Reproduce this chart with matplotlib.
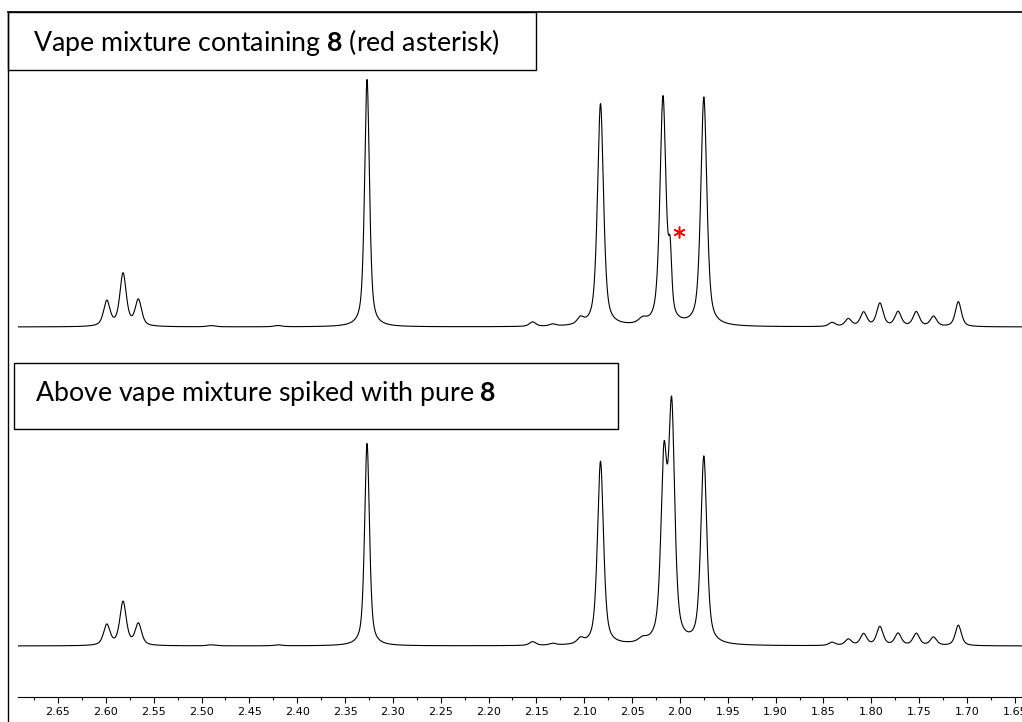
import numpy as np
import matplotlib
matplotlib.use('Agg')
import matplotlib.pyplot as plt
from matplotlib.patches import Rectangle
from matplotlib.lines import Line2D
from matplotlib.ticker import MultipleLocator, FormatStrFormatter

plt.rcParams['mathtext.fontset'] = 'custom'
plt.rcParams['mathtext.rm'] = 'Lato'
plt.rcParams['mathtext.bf'] = 'Lato:bold'

# peak lists: chemical shift (ppm), height (rel. units), FWHM (ppm)
shift_top = [2.599, 2.582, 2.566, 2.49, 2.42, 2.327, 2.154, 2.133, 2.104, 2.083,
             2.039, 2.0177, 2.0102, 1.975, 1.841, 1.824, 1.808, 1.791, 1.772,
             1.753, 1.735, 1.709]
height_top = [10.0, 21.0, 10.4, 0.5, 0.5, 99.0, 1.8, 0.8, 2.6, 89.0,
              2.0, 91.0, 22.0, 91.5, 1.6, 3.0, 5.6, 9.2, 5.8,
              5.8, 4.0, 10.0]
width_top = [0.008, 0.008, 0.008, 0.01, 0.01, 0.006, 0.008, 0.008, 0.008, 0.0075,
             0.01, 0.0075, 0.004, 0.0075, 0.008, 0.008, 0.008, 0.008, 0.008,
             0.008, 0.008, 0.0075]

shift_bot = [2.599, 2.582, 2.566, 2.49, 2.42, 2.327, 2.154, 2.133, 2.104, 2.083,
             2.039, 2.0167, 2.0086, 1.975, 1.841, 1.824, 1.808, 1.791, 1.772,
             1.753, 1.735, 1.709]
height_bot = [8.2, 17.4, 8.6, 0.4, 0.4, 81.0, 1.5, 0.7, 2.1, 73.5,
              1.6, 70.0, 90.5, 75.0, 1.3, 2.5, 4.6, 7.5, 4.8,
              4.8, 3.3, 8.2]
width_bot = [0.008, 0.008, 0.008, 0.01, 0.01, 0.006, 0.008, 0.008, 0.008, 0.0075,
             0.01, 0.0075, 0.0075, 0.0075, 0.008, 0.008, 0.008, 0.008, 0.008,
             0.008, 0.008, 0.0075]

offset_top = 148.0
offset_bot = 20.4

asterisk_ppm = 2.001
asterisk_y = 186.0

label_top = r'Vape mixture containing $\mathbf{8}$ (red asterisk)'
label_bot = r'Above vape mixture spiked with pure $\mathbf{8}$'


def pseudo_voigt(x, x0, h, fwhm, eta=0.6):
    hw = fwhm / 2.0
    lor = 1.0 / (1.0 + ((x - x0) / hw) ** 2)
    gau = np.exp(-np.log(2) * ((x - x0) / hw) ** 2)
    return h * (eta * lor + (1 - eta) * gau)


def spectrum(x, shifts, heights, widths):
    y = np.zeros_like(x)
    for s, h, w in zip(shifts, heights, widths):
        y += pseudo_voigt(x, s, h, w)
    return y


W, H = 1022, 722
fig = plt.figure(figsize=(W / 100, H / 100), dpi=100)
ax = fig.add_axes([18 / W, 25 / H, (W - 18) / W, 685 / H])

ppm = np.linspace(2.70, 1.63, 8000)
ax.plot(ppm, spectrum(ppm, shift_top, height_top, width_top) + offset_top,
        color='black', lw=0.8)
ax.plot(ppm, spectrum(ppm, shift_bot, height_bot, width_bot) + offset_bot,
        color='black', lw=0.8)

ax.plot(asterisk_ppm, asterisk_y, marker=(6, 2, 0), color='red', ms=8.5, mew=1.1)

ax.set_xlim(2.65 + 40 / 956.8, 2.65 - 964 / 956.8)
ax.set_ylim(0, 274)

for s in ['left', 'right', 'top']:
    ax.spines[s].set_visible(False)
ax.spines['bottom'].set_linewidth(0.8)
ax.set_yticks([])
ax.xaxis.set_major_locator(MultipleLocator(0.05))
ax.xaxis.set_minor_locator(MultipleLocator(0.025))
ax.xaxis.set_major_formatter(FormatStrFormatter('%.2f'))
ax.tick_params(axis='x', which='major', length=4, width=0.8, labelsize=8, pad=3)
ax.tick_params(axis='x', which='minor', length=2.5, width=0.8)

# outer frame lines
fig.add_artist(Line2D([8 / W, 8 / W], [0, 1 - 12 / H], color='black', lw=1.0))
fig.add_artist(Line2D([8 / W, 1], [1 - 12 / H, 1 - 12 / H], color='black', lw=1.2))

# label boxes
fig.add_artist(Rectangle((8 / W, 1 - 70 / H), 528 / W, 58 / H, transform=fig.transFigure,
                         facecolor='white', edgecolor='black', lw=1.0))
fig.text(33 / W, 1 - 42 / H, label_top, fontsize=19.3, family='Lato', va='center')

fig.add_artist(Rectangle((14 / W, 1 - 429 / H), 604 / W, 66 / H, transform=fig.transFigure,
                         facecolor='white', edgecolor='black', lw=1.0))
fig.text(35 / W, 1 - 394 / H, label_bot, fontsize=19.3, family='Lato', va='center')

fig.savefig('out.png', dpi=100)
